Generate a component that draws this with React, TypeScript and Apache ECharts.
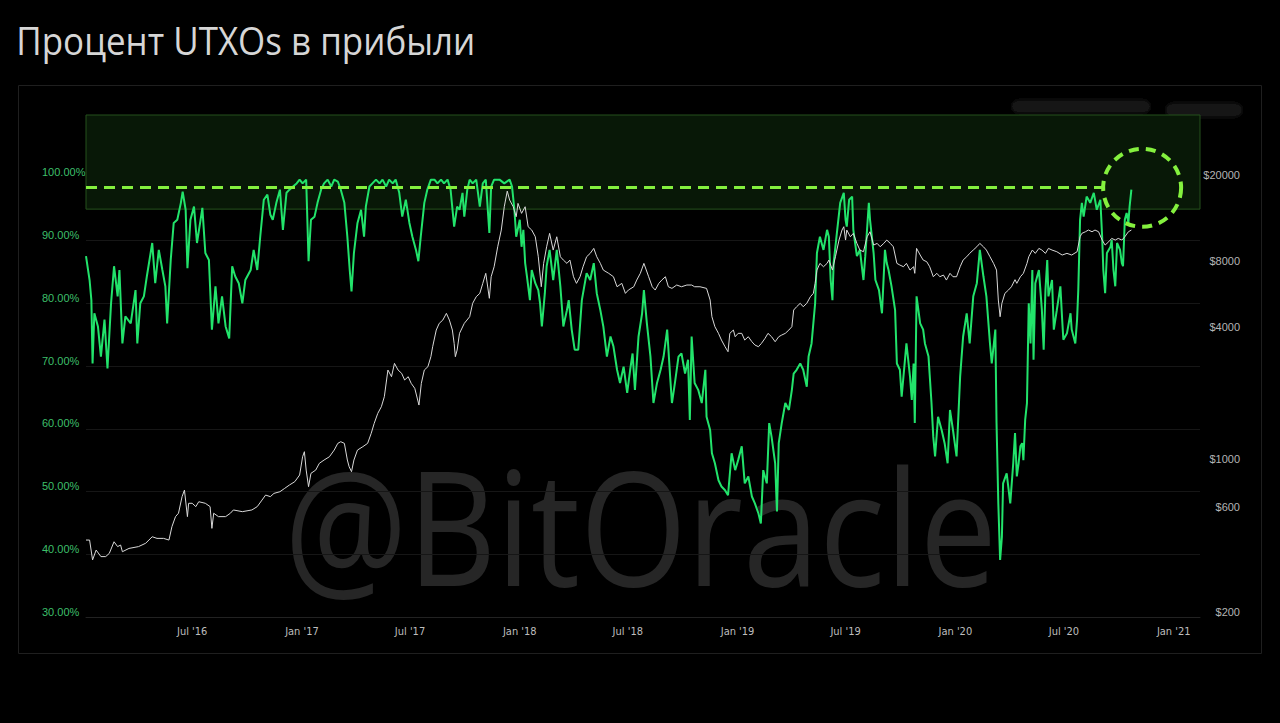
import React, { useEffect, useRef } from "react";
import * as echarts from "echarts";

type Pt = [string, number];

// % of UTXOs in profit (left axis)
const utxo2016: Pt[] = [
  ["2016-01-05", 87.5], ["2016-01-11", 83.7], ["2016-01-14", 80.5], ["2016-01-16", 70.4], ["2016-01-19", 78.4],
  ["2016-01-25", 76.3], ["2016-01-30", 71.5], ["2016-02-05", 77.4], ["2016-02-10", 69.6], ["2016-02-16", 80.0],
  ["2016-02-21", 85.9], ["2016-02-27", 81.1], ["2016-03-01", 85.3], ["2016-03-06", 73.6], ["2016-03-11", 77.9],
  ["2016-03-20", 76.8], ["2016-03-28", 82.1], ["2016-03-31", 73.6], ["2016-04-05", 80.0], ["2016-04-11", 81.1],
  ["2016-04-16", 84.3], ["2016-04-25", 89.6], ["2016-04-30", 83.2], ["2016-05-06", 88.5], ["2016-05-12", 85.3],
  ["2016-05-17", 82.7], ["2016-05-20", 76.8], ["2016-05-26", 86.9], ["2016-05-31", 92.8], ["2016-06-06", 93.3],
  ["2016-06-12", 96.0], ["2016-06-15", 97.8], ["2016-06-20", 94.9], ["2016-06-23", 85.6], ["2016-06-28", 93.3],
  ["2016-07-04", 95.4], ["2016-07-09", 89.6], ["2016-07-15", 93.3], ["2016-07-18", 95.2], ["2016-07-23", 88.0],
  ["2016-07-29", 86.9], ["2016-08-03", 75.8], ["2016-08-09", 82.7], ["2016-08-14", 76.8], ["2016-08-20", 81.1],
  ["2016-08-26", 76.3], ["2016-09-01", 74.4], ["2016-09-06", 85.9], ["2016-09-11", 84.3], ["2016-09-17", 83.2],
  ["2016-09-23", 80.0], ["2016-09-28", 83.7], ["2016-10-07", 85.3], ["2016-10-12", 88.5], ["2016-10-18", 85.3],
  ["2016-10-23", 90.6], ["2016-10-29", 96.5], ["2016-11-04", 97.3], ["2016-11-09", 94.1], ["2016-11-13", 93.3],
  ["2016-11-19", 96.0], ["2016-11-25", 98.1], ["2016-11-30", 91.7], ["2016-12-06", 97.6], ["2016-12-11", 98.1],
  ["2016-12-17", 98.6], ["2016-12-23", 99.1], ["2016-12-28", 99.7],
];
const utxo2017: Pt[] = [
  ["2017-01-02", 99.1], ["2017-01-08", 99.7], ["2017-01-12", 86.7], ["2017-01-16", 93.3], ["2017-01-22", 93.8],
  ["2017-01-27", 96.0], ["2017-02-02", 98.1], ["2017-02-07", 99.1], ["2017-02-13", 99.7], ["2017-02-19", 98.6],
  ["2017-02-24", 99.7], ["2017-03-02", 99.4], ["2017-03-07", 98.1], ["2017-03-13", 96.0], ["2017-03-18", 90.6],
  ["2017-03-22", 85.3], ["2017-03-25", 81.9], ["2017-03-29", 88.0], ["2017-04-04", 92.8], ["2017-04-10", 94.9],
  ["2017-04-15", 90.6], ["2017-04-18", 95.4], ["2017-04-24", 98.6], ["2017-04-29", 99.1], ["2017-05-05", 99.7],
  ["2017-05-11", 99.1], ["2017-05-16", 99.7], ["2017-05-22", 98.6], ["2017-05-27", 99.7], ["2017-06-02", 99.1],
  ["2017-06-07", 99.7], ["2017-06-13", 97.6], ["2017-06-18", 93.8], ["2017-06-24", 96.5], ["2017-06-30", 92.8],
  ["2017-07-05", 90.6], ["2017-07-11", 88.5], ["2017-07-15", 86.7], ["2017-07-19", 90.6], ["2017-07-25", 96.0],
  ["2017-07-30", 98.1], ["2017-08-05", 99.7], ["2017-08-11", 99.7], ["2017-08-16", 99.1], ["2017-08-22", 99.7],
  ["2017-08-27", 99.1], ["2017-09-02", 99.7], ["2017-09-07", 98.1], ["2017-09-13", 92.2], ["2017-09-18", 95.4],
  ["2017-09-22", 94.9], ["2017-09-27", 97.6], ["2017-09-30", 93.8], ["2017-10-05", 98.1], ["2017-10-09", 99.7],
  ["2017-10-14", 99.1], ["2017-10-20", 99.7], ["2017-10-26", 95.4], ["2017-10-31", 99.1], ["2017-11-05", 99.7],
  ["2017-11-11", 91.2], ["2017-11-14", 98.6], ["2017-11-19", 99.7], ["2017-11-28", 99.7], ["2017-12-06", 99.1],
  ["2017-12-15", 99.7], ["2017-12-19", 98.6], ["2017-12-23", 94.9], ["2017-12-26", 90.6],
];
const utxo2018: Pt[] = [
  ["2018-01-01", 93.3], ["2018-01-04", 89.0], ["2018-01-07", 91.7], ["2018-01-10", 86.4], ["2018-01-13", 84.3],
  ["2018-01-18", 80.5], ["2018-01-21", 85.3], ["2018-01-27", 83.2], ["2018-02-01", 82.1], ["2018-02-04", 80.0],
  ["2018-02-07", 76.3], ["2018-02-12", 81.6], ["2018-02-15", 85.9], ["2018-02-20", 88.5], ["2018-02-26", 83.7],
  ["2018-03-04", 88.5], ["2018-03-10", 82.7], ["2018-03-15", 76.3], ["2018-03-21", 78.9], ["2018-03-24", 80.5],
  ["2018-03-29", 75.8], ["2018-04-03", 72.6], ["2018-04-09", 72.6], ["2018-04-15", 80.5], ["2018-04-23", 84.8],
  ["2018-04-29", 83.7], ["2018-05-05", 86.4], ["2018-05-10", 81.6], ["2018-05-16", 78.9], ["2018-05-21", 76.3],
  ["2018-05-27", 71.5], ["2018-06-02", 74.7], ["2018-06-07", 73.1], ["2018-06-13", 69.4], ["2018-06-18", 67.3],
  ["2018-06-24", 69.9], ["2018-06-30", 65.7], ["2018-07-05", 69.4], ["2018-07-09", 72.0], ["2018-07-13", 66.2],
  ["2018-07-19", 74.7], ["2018-07-25", 78.4], ["2018-07-28", 82.1], ["2018-08-02", 76.8], ["2018-08-08", 71.5],
  ["2018-08-13", 64.1], ["2018-08-19", 67.3], ["2018-08-25", 69.4], ["2018-08-30", 71.5], ["2018-09-05", 75.8],
  ["2018-09-10", 68.3], ["2018-09-13", 64.1], ["2018-09-18", 67.3], ["2018-09-24", 71.5], ["2018-09-29", 72.0],
  ["2018-10-05", 68.8], ["2018-10-10", 71.0], ["2018-10-13", 61.4], ["2018-10-16", 74.7], ["2018-10-21", 67.3],
  ["2018-10-27", 66.2], ["2018-11-02", 64.1], ["2018-11-08", 69.4], ["2018-11-10", 61.9], ["2018-11-16", 59.8],
  ["2018-11-19", 56.1], ["2018-11-24", 54.5], ["2018-11-30", 51.8], ["2018-12-05", 50.8], ["2018-12-11", 50.2],
  ["2018-12-16", 49.4], ["2018-12-22", 56.1], ["2018-12-28", 53.4],
];
const utxo2019: Pt[] = [
  ["2019-01-02", 55.0], ["2019-01-08", 57.2], ["2019-01-13", 51.3], ["2019-01-19", 52.4], ["2019-01-25", 49.2],
  ["2019-01-30", 48.1], ["2019-02-05", 46.5], ["2019-02-09", 44.9], ["2019-02-13", 53.4], ["2019-02-19", 51.3],
  ["2019-02-23", 60.9], ["2019-02-27", 58.7], ["2019-03-05", 54.5], ["2019-03-08", 46.8], ["2019-03-11", 57.7],
  ["2019-03-16", 60.9], ["2019-03-22", 64.1], ["2019-03-28", 63.0], ["2019-04-02", 66.2], ["2019-04-05", 68.8],
  ["2019-04-10", 69.4], ["2019-04-16", 70.4], ["2019-04-21", 69.4], ["2019-04-27", 66.7], ["2019-04-30", 71.5],
  ["2019-05-05", 73.6], ["2019-05-11", 80.0], ["2019-05-14", 88.0], ["2019-05-19", 90.6], ["2019-05-25", 88.5],
  ["2019-05-31", 91.7], ["2019-06-03", 90.6], ["2019-06-06", 83.7], ["2019-06-09", 80.5], ["2019-06-11", 86.4],
  ["2019-06-17", 91.7], ["2019-06-22", 96.0], ["2019-06-28", 97.6], ["2019-07-01", 93.3], ["2019-07-03", 92.2],
  ["2019-07-07", 96.5], ["2019-07-12", 97.0], ["2019-07-14", 91.7], ["2019-07-20", 87.5], ["2019-07-25", 88.5],
  ["2019-07-31", 83.7], ["2019-08-03", 87.5], ["2019-08-09", 96.0], ["2019-08-11", 93.3], ["2019-08-17", 88.0],
  ["2019-08-20", 83.7], ["2019-08-26", 82.1], ["2019-08-31", 78.4], ["2019-09-05", 88.5], ["2019-09-08", 86.4],
  ["2019-09-11", 85.3], ["2019-09-16", 82.7], ["2019-09-22", 78.9], ["2019-09-25", 70.4], ["2019-09-30", 69.4],
  ["2019-10-03", 65.1], ["2019-10-09", 71.5], ["2019-10-11", 73.6], ["2019-10-17", 68.3], ["2019-10-20", 64.6],
  ["2019-10-23", 70.4], ["2019-10-25", 60.9], ["2019-10-28", 81.1], ["2019-11-03", 76.8], ["2019-11-08", 75.8],
  ["2019-11-11", 73.6], ["2019-11-17", 71.5], ["2019-11-22", 64.1], ["2019-11-25", 58.7], ["2019-11-28", 55.6],
  ["2019-12-03", 61.9], ["2019-12-09", 59.8], ["2019-12-14", 57.7], ["2019-12-19", 54.5], ["2019-12-23", 63.0],
  ["2019-12-28", 59.8],
];
const utxo2020: Pt[] = [
  ["2020-01-03", 55.6], ["2020-01-09", 68.3], ["2020-01-14", 74.7], ["2020-01-20", 78.4], ["2020-01-25", 73.6],
  ["2020-01-31", 81.1], ["2020-02-06", 83.2], ["2020-02-11", 88.5], ["2020-02-17", 84.3], ["2020-02-22", 81.1],
  ["2020-02-28", 73.6], ["2020-03-02", 70.4], ["2020-03-08", 75.8], ["2020-03-10", 60.9], ["2020-03-13", 48.1],
  ["2020-03-16", 39.1], ["2020-03-19", 42.8], ["2020-03-21", 51.3], ["2020-03-27", 52.9], ["2020-04-02", 48.1],
  ["2020-04-07", 54.5], ["2020-04-10", 59.3], ["2020-04-13", 52.4], ["2020-04-16", 54.5], ["2020-04-19", 57.2],
  ["2020-04-22", 57.7], ["2020-04-24", 55.0], ["2020-04-27", 61.4], ["2020-04-30", 64.1], ["2020-05-03", 80.0],
  ["2020-05-06", 73.6], ["2020-05-09", 85.3], ["2020-05-11", 71.0], ["2020-05-14", 83.2], ["2020-05-20", 85.3],
  ["2020-05-25", 78.9], ["2020-05-28", 72.6], ["2020-05-31", 82.1], ["2020-06-03", 86.9], ["2020-06-05", 81.1],
  ["2020-06-11", 83.7], ["2020-06-14", 75.8], ["2020-06-19", 78.9], ["2020-06-25", 82.7], ["2020-06-28", 77.4],
  ["2020-06-30", 74.2], ["2020-07-06", 75.2], ["2020-07-12", 78.4], ["2020-07-14", 75.8], ["2020-07-20", 73.6],
  ["2020-07-23", 77.4], ["2020-07-25", 82.1], ["2020-07-28", 93.3], ["2020-07-31", 96.0], ["2020-08-03", 93.8],
  ["2020-08-08", 97.0], ["2020-08-14", 96.0], ["2020-08-20", 97.6], ["2020-08-25", 94.9], ["2020-08-31", 96.5],
  ["2020-09-03", 90.6], ["2020-09-05", 85.3], ["2020-09-08", 81.6], ["2020-09-11", 88.0], ["2020-09-17", 89.0],
  ["2020-09-19", 90.1], ["2020-09-22", 85.3], ["2020-09-25", 82.7], ["2020-09-28", 89.6], ["2020-10-03", 88.5],
  ["2020-10-06", 86.4], ["2020-10-08", 85.9], ["2020-10-11", 93.3], ["2020-10-14", 94.4], ["2020-10-17", 92.8],
  ["2020-10-19", 95.4], ["2020-10-22", 98.1],
];

// BTC price, USD (right log axis)
const price2016: Pt[] = [
  ["2016-01-05", 450], ["2016-01-11", 450], ["2016-01-16", 365], ["2016-01-22", 405], ["2016-01-30", 378],
  ["2016-02-07", 378], ["2016-02-13", 391], ["2016-02-21", 442], ["2016-02-27", 420], ["2016-03-03", 427],
  ["2016-03-06", 398], ["2016-03-17", 412], ["2016-04-02", 420], ["2016-04-14", 435], ["2016-04-25", 466],
  ["2016-05-03", 458], ["2016-05-14", 458], ["2016-05-23", 450], ["2016-05-28", 518], ["2016-06-03", 576],
  ["2016-06-08", 597], ["2016-06-14", 711], ["2016-06-18", 762], ["2016-06-23", 576], ["2016-06-25", 663],
  ["2016-07-01", 663], ["2016-07-07", 640], ["2016-07-12", 674], ["2016-07-23", 663], ["2016-07-31", 640],
  ["2016-08-03", 509], ["2016-08-06", 597], ["2016-08-14", 576], ["2016-08-26", 576], ["2016-09-03", 597],
  ["2016-09-08", 618], ["2016-09-23", 607], ["2016-10-09", 618], ["2016-10-18", 640], ["2016-10-26", 686],
  ["2016-11-01", 723], ["2016-11-09", 711], ["2016-11-15", 736], ["2016-11-25", 749], ["2016-12-03", 776],
  ["2016-12-11", 804], ["2016-12-20", 833], ["2016-12-28", 893],
];
const price2017: Pt[] = [
  ["2017-01-02", 1083], ["2017-01-05", 1142], ["2017-01-08", 941], ["2017-01-12", 790], ["2017-01-16", 909],
  ["2017-01-24", 941], ["2017-01-30", 1010], ["2017-02-07", 1046], ["2017-02-16", 1083], ["2017-02-24", 1162],
  ["2017-03-02", 1247], ["2017-03-07", 1269], ["2017-03-13", 1247], ["2017-03-18", 1046], ["2017-03-21", 975],
  ["2017-03-25", 925], ["2017-03-29", 1046], ["2017-04-04", 1162], ["2017-04-13", 1204], ["2017-04-21", 1247],
  ["2017-04-27", 1386], ["2017-05-02", 1539], ["2017-05-08", 1710], ["2017-05-14", 1834], ["2017-05-19", 2039],
  ["2017-05-25", 2701], ["2017-05-31", 2517], ["2017-06-05", 2897], ["2017-06-11", 2701], ["2017-06-17", 2608],
  ["2017-06-22", 2431], ["2017-06-28", 2517], ["2017-07-03", 2347], ["2017-07-09", 2226], ["2017-07-16", 1867],
  ["2017-07-20", 2347], ["2017-07-25", 2701], ["2017-07-31", 2797], ["2017-08-05", 3108], ["2017-08-08", 3453],
  ["2017-08-14", 4117], ["2017-08-19", 4416], ["2017-08-25", 4574], ["2017-08-31", 4908], ["2017-09-05", 4574],
  ["2017-09-10", 4117], ["2017-09-13", 3577], ["2017-09-15", 3108], ["2017-09-18", 3334], ["2017-09-22", 3975],
  ["2017-09-30", 4416], ["2017-10-09", 4736], ["2017-10-14", 5455], ["2017-10-20", 5848], ["2017-10-26", 6059],
  ["2017-10-31", 6733], ["2017-11-05", 7482], ["2017-11-11", 5750], ["2017-11-14", 7220], ["2017-11-19", 8022],
  ["2017-11-25", 9904], ["2017-12-01", 11810], ["2017-12-06", 15095], ["2017-12-11", 17800], ["2017-12-15", 16200],
  ["2017-12-21", 15095], ["2017-12-26", 13590], ["2017-12-29", 15640],
];
const price2018: Pt[] = [
  ["2018-01-04", 14080], ["2018-01-10", 15095], ["2018-01-15", 12230], ["2018-01-21", 11810], ["2018-01-27", 11000],
  ["2018-02-01", 8913], ["2018-02-06", 6497], ["2018-02-10", 8312], ["2018-02-15", 9904], ["2018-02-20", 11400],
  ["2018-02-26", 9563], ["2018-03-04", 11000], ["2018-03-10", 8913], ["2018-03-15", 8608], ["2018-03-21", 8312],
  ["2018-03-26", 8608], ["2018-04-01", 7220], ["2018-04-06", 6733], ["2018-04-12", 7220], ["2018-04-17", 8022],
  ["2018-04-23", 8913], ["2018-04-29", 9236], ["2018-05-05", 9734], ["2018-05-10", 8913], ["2018-05-16", 8312],
  ["2018-05-21", 7745], ["2018-05-30", 7482], ["2018-06-07", 7220], ["2018-06-13", 6497], ["2018-06-21", 6733],
  ["2018-06-27", 6059], ["2018-07-02", 6275], ["2018-07-11", 6497], ["2018-07-16", 6970], ["2018-07-22", 7482],
  ["2018-07-28", 8312], ["2018-08-05", 7220], ["2018-08-11", 6497], ["2018-08-16", 6275], ["2018-08-22", 6733],
  ["2018-08-27", 6970], ["2018-09-02", 7220], ["2018-09-07", 6497], ["2018-09-13", 6385], ["2018-09-21", 6615],
  ["2018-09-29", 6497], ["2018-10-08", 6615], ["2018-10-16", 6615], ["2018-10-21", 6497], ["2018-10-30", 6497],
  ["2018-11-10", 6385], ["2018-11-16", 5647], ["2018-11-19", 4736], ["2018-11-24", 4264], ["2018-11-30", 3975],
  ["2018-12-05", 3704], ["2018-12-11", 3453], ["2018-12-16", 3276], ["2018-12-19", 3975], ["2018-12-25", 4117],
  ["2018-12-28", 3836],
];
const price2019: Pt[] = [
  ["2019-01-02", 3975], ["2019-01-08", 3975], ["2019-01-13", 3704], ["2019-01-19", 3836], ["2019-01-25", 3639],
  ["2019-01-30", 3515], ["2019-02-05", 3453], ["2019-02-10", 3577], ["2019-02-16", 3771], ["2019-02-21", 3975],
  ["2019-02-27", 3836], ["2019-03-05", 3639], ["2019-03-11", 3836], ["2019-03-16", 3905], ["2019-03-22", 3975],
  ["2019-03-28", 4117], ["2019-04-02", 4264], ["2019-04-05", 5082], ["2019-04-10", 5264], ["2019-04-16", 5455],
  ["2019-04-21", 5264], ["2019-04-27", 5455], ["2019-05-03", 5848], ["2019-05-08", 6059], ["2019-05-11", 6733],
  ["2019-05-14", 7745], ["2019-05-19", 8312], ["2019-05-25", 8022], ["2019-05-31", 8312], ["2019-06-03", 8608],
  ["2019-06-09", 7745], ["2019-06-14", 8913], ["2019-06-20", 10627], ["2019-06-25", 11810], ["2019-06-28", 12230],
  ["2019-07-01", 10627], ["2019-07-03", 11810], ["2019-07-09", 11000], ["2019-07-14", 11400], ["2019-07-20", 10259],
  ["2019-07-25", 9563], ["2019-07-31", 9397], ["2019-08-06", 11000], ["2019-08-11", 11600], ["2019-08-17", 10081],
  ["2019-08-23", 10259], ["2019-08-28", 9904], ["2019-09-03", 10259], ["2019-09-08", 10627], ["2019-09-14", 10259],
  ["2019-09-19", 9904], ["2019-09-25", 8312], ["2019-09-30", 8166], ["2019-10-06", 8022], ["2019-10-11", 8312],
  ["2019-10-17", 7745], ["2019-10-23", 8022], ["2019-10-25", 7482], ["2019-10-28", 9734], ["2019-11-03", 9075],
  ["2019-11-08", 8608], ["2019-11-14", 8458], ["2019-11-19", 8022], ["2019-11-25", 7220], ["2019-12-01", 7482],
  ["2019-12-06", 7220], ["2019-12-12", 7348], ["2019-12-17", 6970], ["2019-12-23", 7482], ["2019-12-28", 7220],
];
const price2020: Pt[] = [
  ["2020-01-03", 7220], ["2020-01-09", 8022], ["2020-01-14", 8608], ["2020-01-20", 8913], ["2020-01-25", 9236],
  ["2020-01-31", 9563], ["2020-02-06", 9904], ["2020-02-11", 10259], ["2020-02-17", 9904], ["2020-02-22", 9563],
  ["2020-02-28", 8913], ["2020-03-05", 8312], ["2020-03-10", 7745], ["2020-03-13", 5647], ["2020-03-16", 4736],
  ["2020-03-19", 5455], ["2020-03-24", 6059], ["2020-03-30", 6275], ["2020-04-04", 6497], ["2020-04-10", 7000],
  ["2020-04-13", 6733], ["2020-04-19", 7220], ["2020-04-24", 7482], ["2020-04-30", 8312], ["2020-05-03", 8913],
  ["2020-05-09", 9563], ["2020-05-14", 9236], ["2020-05-20", 9734], ["2020-05-25", 9563], ["2020-05-31", 9236],
  ["2020-06-05", 9734], ["2020-06-11", 9563], ["2020-06-19", 9397], ["2020-06-28", 9075], ["2020-07-06", 9236],
  ["2020-07-14", 9075], ["2020-07-23", 9397], ["2020-07-28", 11000], ["2020-07-31", 11400], ["2020-08-06", 11600],
  ["2020-08-11", 11810], ["2020-08-17", 11600], ["2020-08-22", 11810], ["2020-08-28", 11600], ["2020-09-03", 10627],
  ["2020-09-08", 10081], ["2020-09-14", 10440], ["2020-09-19", 10814], ["2020-09-25", 10627], ["2020-09-30", 10814],
  ["2020-10-06", 10627], ["2020-10-11", 11000], ["2020-10-17", 11600], ["2020-10-22", 11810],
];

const priceTicks = [200, 600, 1000, 4000, 8000, 20000];
const dateTicks = [
  "2016-07-01", "2017-01-01", "2017-07-01", "2018-01-01", "2018-07-01",
  "2019-01-01", "2019-07-01", "2020-01-01", "2020-07-01", "2021-01-01",
];
const monthNames = ["Jan", "Feb", "Mar", "Apr", "May", "Jun", "Jul", "Aug", "Sep", "Oct", "Nov", "Dec"];

const xMin = "2016-01-05";
const xMax = "2021-02-14";
const zoneLow = 95;
const zoneHigh = 110;
const thresholdLevel = 98.5;
const thresholdEnd = "2020-09-05";
const circleDate = "2020-11-09";
const circleLevel = 98.4;

const TITLE = "Процент UTXOs в прибыли";
const WATERMARK = "@BitOracle";

function fitText(text: string, font: string, targetW: number, fallback: number) {
  try {
    const ctx = document.createElement("canvas").getContext("2d");
    if (!ctx) return { scale: fallback, left: 0 };
    ctx.font = font;
    const m = ctx.measureText(text);
    const w = (m.actualBoundingBoxLeft || 0) + (m.actualBoundingBoxRight || 0);
    if (!w) return { scale: fallback, left: 0 };
    return { scale: targetW / w, left: m.actualBoundingBoxLeft || 0 };
  } catch (e) {
    return { scale: fallback, left: 0 };
  }
}

export default function App() {
  const ref = useRef<HTMLDivElement>(null);

  useEffect(() => {
    if (!ref.current) return;
    const chart = echarts.init(ref.current, undefined, { renderer: "svg" });
    const tp = (s: string) => +echarts.time.parse(s);
    const toXY = (arr: Pt[]) => arr.map((p) => [tp(p[0]), p[1]]);

    const utxoData = toXY([...utxo2016, ...utxo2017, ...utxo2018, ...utxo2019, ...utxo2020]);
    const priceData = toXY([...price2016, ...price2017, ...price2018, ...price2019, ...price2020]);

    const titleFont = '39px "Open Sans"';
    const wmFont = '160px "Open Sans"';
    const tf = fitText(TITLE, titleFont, 454, 0.87);
    const wf = fitText(WATERMARK, wmFont, 698, 0.85);

    const option: any = {
      animation: false,
      backgroundColor: "#000",
      grid: { left: 86, right: 80, top: 115, bottom: 106, containLabel: false, outerBoundsMode: "none" },
      xAxis: {
        type: "value",
        min: tp(xMin),
        max: tp(xMax),
        axisLine: { show: true, lineStyle: { color: "#222", width: 1 } },
        axisTick: { show: false },
        splitLine: { show: false },
        axisLabel: {
          customValues: dateTicks.map(tp),
          formatter: (v: number) => {
            const d = new Date(v);
            return monthNames[d.getMonth()] + " '" + String(d.getFullYear()).slice(2);
          },
          color: "#bdbdbd",
          fontSize: 11,
          fontFamily: '"Liberation Sans Narrow", "DejaVu Sans Condensed", Roboto, sans-serif',
          margin: 9,
        },
      },
      yAxis: [
        {
          type: "value",
          min: 30,
          max: 110,
          interval: 10,
          position: "left",
          axisLine: { show: false },
          axisTick: { show: false },
          splitLine: { show: true, lineStyle: { color: "#161616", width: 1 } },
          axisLabel: {
            formatter: (v: number) => (v > 100 ? "" : v.toFixed(2) + "%"),
            color: "#3dbf6a",
            fontSize: 11,
            fontFamily: '"Liberation Sans", Arial, sans-serif',
            align: "left",
            verticalAlign: "bottom",
            margin: 44,
          },
        },
        {
          type: "log",
          logBase: 10,
          min: 200,
          max: 39700,
          position: "right",
          axisLine: { show: false },
          axisTick: { show: false },
          splitLine: { show: false },
          axisLabel: {
            customValues: priceTicks,
            formatter: (v: number) => "$" + Math.round(v),
            color: "#b4b4b4",
            fontSize: 11,
            fontFamily: '"Liberation Sans", Arial, sans-serif',
            align: "right",
            verticalAlign: "bottom",
            margin: 40,
          },
        },
      ],
      series: [
        {
          name: "UTXOs in profit",
          type: "line",
          yAxisIndex: 0,
          data: utxoData,
          showSymbol: false,
          symbol: "none",
          lineStyle: { color: "#22e36b", width: 2 },
          z: 3,
          markArea: {
            silent: true,
            itemStyle: { color: "#081807", borderColor: "#25501d", borderWidth: 1 },
            data: [[{ yAxis: zoneLow }, { yAxis: zoneHigh }]],
          },
          markLine: {
            silent: true,
            symbol: ["none", "none"],
            label: { show: false },
            lineStyle: { color: "#84f03e", width: 3, type: [11, 7] },
            data: [[{ coord: [tp(xMin), thresholdLevel] }, { coord: [tp(thresholdEnd), thresholdLevel] }]],
          },
          markPoint: {
            silent: true,
            symbol: "circle",
            symbolSize: 78,
            label: { show: false },
            itemStyle: { color: "rgba(0,0,0,0)", borderColor: "#84f03e", borderWidth: 4, borderType: [10, 7] },
            data: [{ coord: [tp(circleDate), circleLevel] }],
          },
        },
        {
          name: "Price",
          type: "line",
          yAxisIndex: 1,
          data: priceData,
          showSymbol: false,
          symbol: "none",
          lineStyle: { color: "#d8d8d8", width: 1 },
          z: 4,
        },
      ],
      graphic: [
        {
          type: "rect",
          silent: true,
          z: -10,
          shape: { x: 18.5, y: 85.5, width: 1243, height: 568 },
          style: { fill: "none", stroke: "#1f1f1f", lineWidth: 1 },
        },
        {
          type: "rect",
          silent: true,
          shape: { x: 1012, y: 101, width: 138, height: 11, r: 5 },
          style: { fill: "#121212", shadowBlur: 8, shadowColor: "#121212" },
        },
        {
          type: "rect",
          silent: true,
          shape: { x: 1166, y: 104, width: 76, height: 12, r: 6 },
          style: { fill: "#121212", shadowBlur: 8, shadowColor: "#121212" },
        },
        {
          type: "text",
          silent: true,
          z: -5,
          x: 292 + wf.left * wf.scale,
          y: 524,
          scaleX: wf.scale,
          style: {
            text: WATERMARK,
            x: 0,
            y: 0,
            fill: "#262626",
            fontSize: 160,
            fontFamily: '"Open Sans"',
            align: "left",
            verticalAlign: "middle",
          },
        },
        {
          type: "text",
          silent: true,
          x: 19 + tf.left * tf.scale,
          y: 40,
          scaleX: tf.scale,
          style: {
            text: TITLE,
            x: 0,
            y: 0,
            fill: "#d6d6d6",
            fontSize: 39,
            fontFamily: '"Open Sans"',
            align: "left",
            verticalAlign: "middle",
          },
        },
      ],
    };

    chart.setOption(option);
    return () => chart.dispose();
  }, []);

  return (
    <div style={{ position: "fixed", left: 0, top: 0, width: 1280, height: 723, background: "#000" }}>
      <div ref={ref} style={{ width: 1280, height: 723 }} />
    </div>
  );
}
